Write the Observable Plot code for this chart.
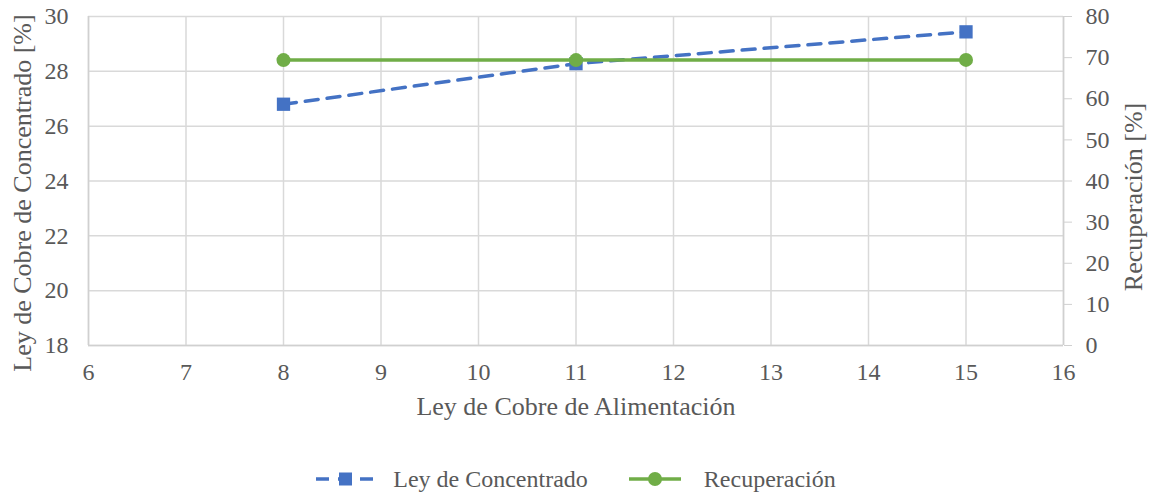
<!DOCTYPE html>
<html>
<head>
<meta charset="utf-8">
<script src="https://cdn.jsdelivr.net/npm/d3@7"></script>
<script src="https://cdn.jsdelivr.net/npm/@observablehq/plot@0.6"></script>
<style>
  html, body { margin: 0; padding: 0; background: #fff; }
  #chart { width: 1151px; }
  #chart svg, #chart svg text { font-family: "Liberation Serif", "Times New Roman", serif !important; }
  .legend { width: 1151px; height: 62px; display: flex; justify-content: center; align-items: center; gap: 40px;
    font-family: "Liberation Serif", "Times New Roman", serif; font-size: 24px; color: #595959; padding-top: 36px; box-sizing: border-box; }
  .item { display: flex; align-items: center; gap: 16px; }
  .item.rec { gap: 22px; }
  .item svg { display: block; }
</style>
</head>
<body>
<div id="chart"></div>
<div class="legend">
  <div class="item"><svg width="62" height="20"><line x1="1" y1="10" x2="61" y2="10" stroke="#4472C4" stroke-width="3.5" stroke-dasharray="13,9"/><rect x="24" y="3.5" width="13" height="13" fill="#4472C4"/></svg><span>Ley de Concentrado</span></div>
  <div class="item rec"><svg width="54" height="20"><line x1="1" y1="10" x2="53" y2="10" stroke="#70AD47" stroke-width="3.5"/><circle cx="27" cy="10" r="7" fill="#70AD47"/></svg><span>Recuperación</span></div>
</div>
<script>
const leyAlimentacion = [8, 11, 15];
const leyConcentrado = [26.8, 28.28, 29.44];
const recuperacion = [69.4, 69.4, 69.45];
const xTicks = [6, 7, 8, 9, 10, 11, 12, 13, 14, 15, 16];
const yLeftTicks = [18, 20, 22, 24, 26, 28, 30];
const yRightTicks = [0, 10, 20, 30, 40, 50, 60, 70, 80];

const leftMin = 18, leftMax = 30, rightMin = 0, rightMax = 80;
const toLeft = v => leftMin + (v - rightMin) / (rightMax - rightMin) * (leftMax - leftMin);
const toRight = v => rightMin + (v - leftMin) / (leftMax - leftMin) * (rightMax - rightMin);

const conc = leyAlimentacion.map((x, i) => ({x, y: leyConcentrado[i]}));
const rec = leyAlimentacion.map((x, i) => ({x, y: toLeft(recuperacion[i])}));

const gridColor = "#d9d9d9";
const textColor = "#595959";
const tickFont = 24;
const titleFont = 26;

const chart = Plot.plot({
  width: 1151,
  height: 430,
  marginLeft: 88,
  marginRight: 88,
  marginTop: 16,
  marginBottom: 85,
  style: { fontFamily: "'Liberation Serif', 'Times New Roman', serif", fontSize: "24px", color: textColor, background: "#fff", overflow: "visible" },
  x: { domain: [6, 16] },
  y: { domain: [leftMin, leftMax] },
  marks: [
    Plot.gridX(xTicks, { stroke: gridColor, strokeOpacity: 1, strokeWidth: 1.5 }),
    Plot.gridY(yLeftTicks, { stroke: gridColor, strokeOpacity: 1, strokeWidth: 1.5 }),
    Plot.ruleX([6], { stroke: "#d0d0d0", strokeWidth: 1.5 }),
    Plot.ruleY([18], { stroke: "#d0d0d0", strokeWidth: 1.5 }),
    Plot.ruleX([16], { stroke: "#d0d0d0", strokeWidth: 1.5 }),
    Plot.axisX(xTicks, { tickSize: 0, tickPadding: 17, label: null, fill: textColor, fontSize: tickFont }),
    Plot.axisY(yLeftTicks, { anchor: "left", tickSize: 0, tickPadding: 20, label: null, fill: textColor, fontSize: tickFont }),
    Plot.axisY(yRightTicks.map(toLeft), { anchor: "right", tickSize: 8, tickPadding: 14, label: null, stroke: "#d0d0d0", fill: textColor, fontSize: tickFont, tickFormat: d => String(Math.round(toRight(d))) }),
    Plot.text(["Ley de Cobre de Alimentación"], { frameAnchor: "bottom", dy: 69, fontSize: titleFont, fill: textColor }),
    Plot.text(["Ley de Cobre de Concentrado [%]"], { frameAnchor: "left", textAnchor: "middle", dx: -66, dy: 12, rotate: -90, fontSize: titleFont, fill: textColor }),
    Plot.text(["Recuperación [%]"], { frameAnchor: "right", textAnchor: "middle", dx: 70, dy: 16, rotate: -90, fontSize: titleFont, fill: textColor }),
    Plot.line(conc, { x: "x", y: "y", stroke: "#4472C4", strokeWidth: 3.5, strokeDasharray: "13,9" }),
    Plot.dot(conc, { x: "x", y: "y", symbol: "square", r: 7.5, fill: "#4472C4" }),
    Plot.line(rec, { x: "x", y: "y", stroke: "#70AD47", strokeWidth: 3.5 }),
    Plot.dot(rec, { x: "x", y: "y", symbol: "circle", r: 7, fill: "#70AD47" })
  ]
});
document.getElementById("chart").appendChild(chart);
</script>
</body>
</html>
